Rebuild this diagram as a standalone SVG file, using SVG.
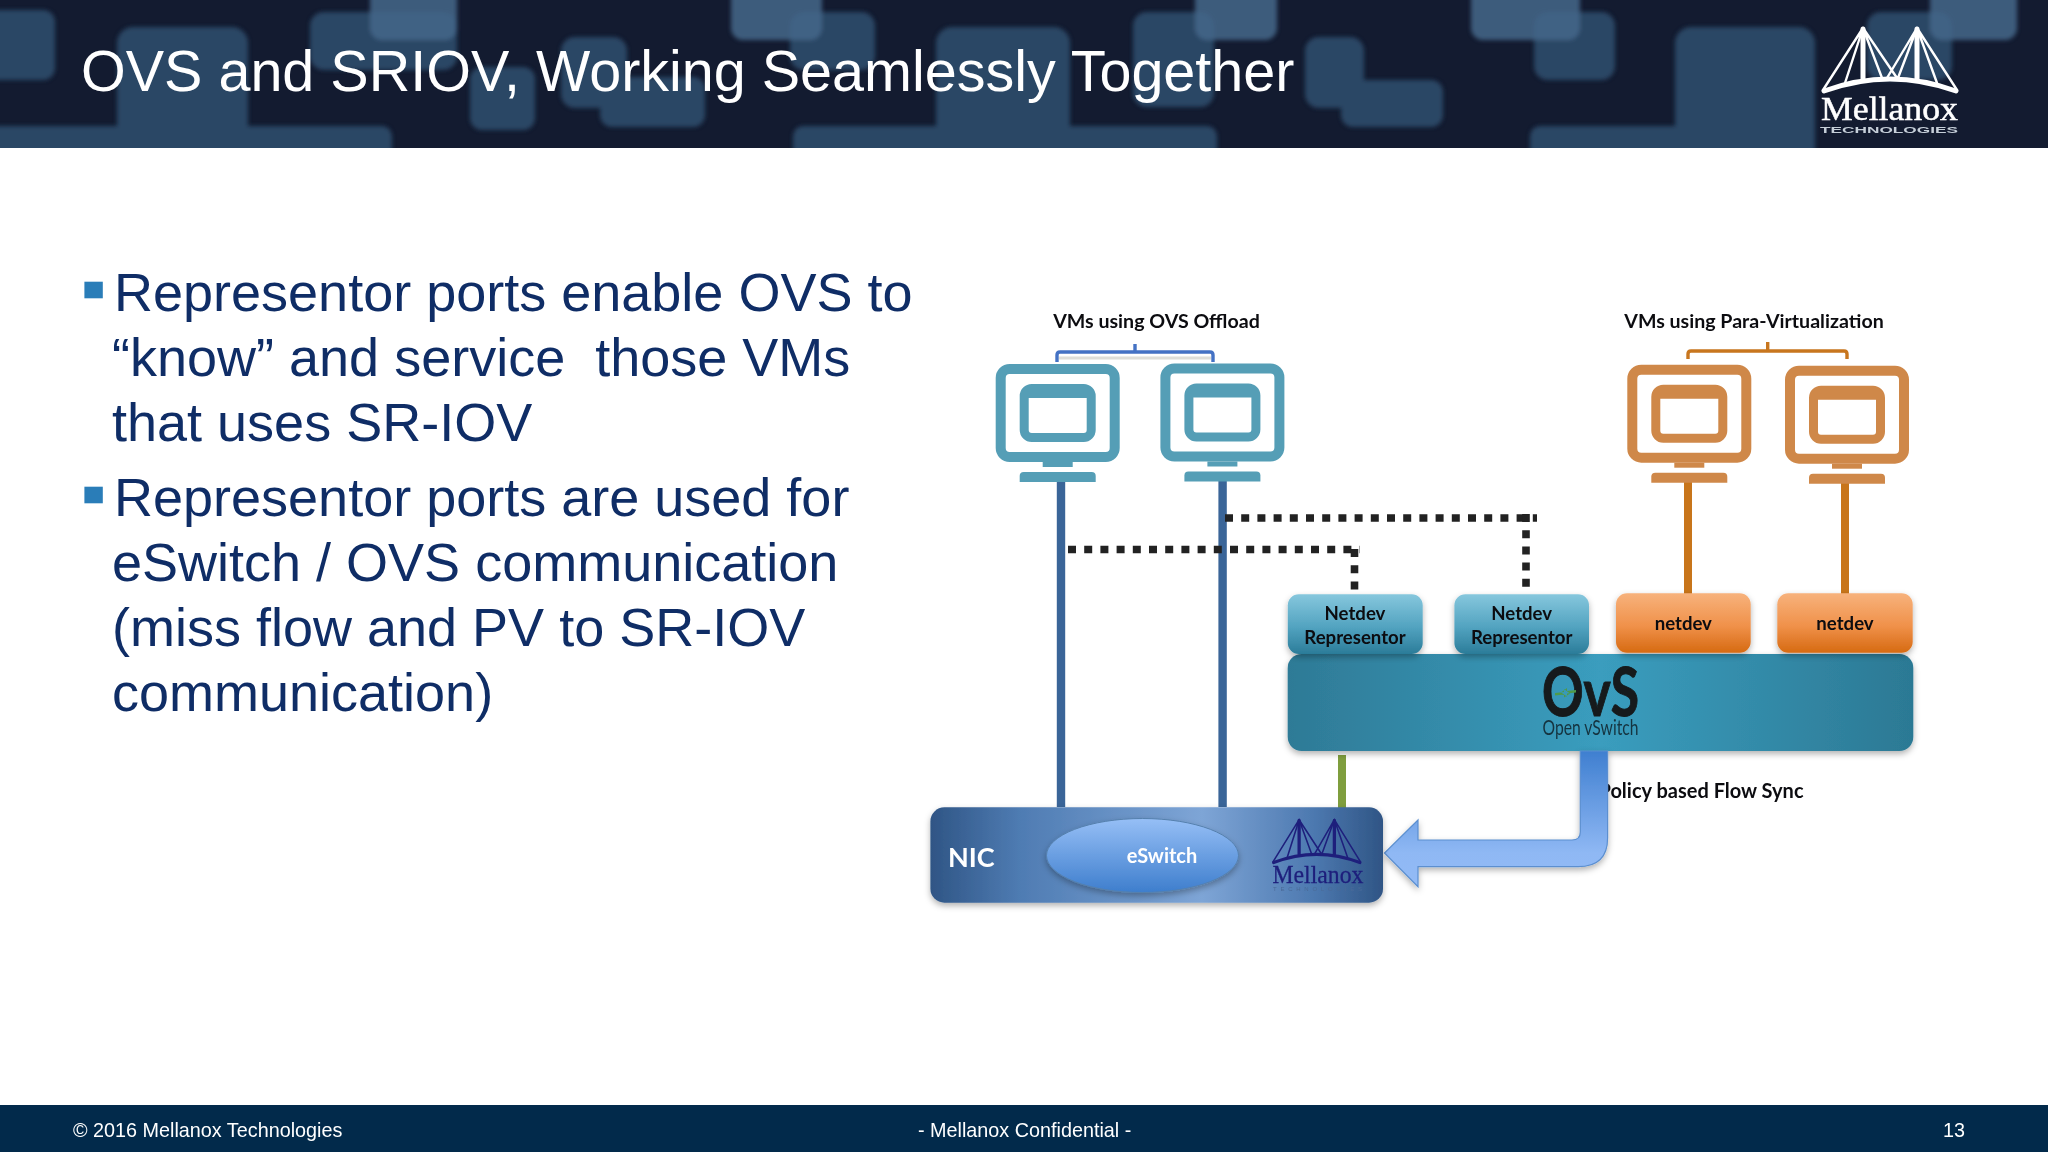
<svg xmlns="http://www.w3.org/2000/svg" width="2048" height="1152" viewBox="0 0 2048 1152">
<style>
text{font-family:"Liberation Sans",Arial,sans-serif}
.lb{font-family:Lato,"Noto Sans",sans-serif;font-weight:700;fill:#0c0c10}
.m{text-anchor:middle}
.body{font-size:54px;fill:#0f2d66;white-space:pre}
.foot{font-size:19.8px;fill:#fff}
.r1{fill:#2b4765}
.r2{fill:#45678a;opacity:.85}
.dash{fill:none;stroke:#222;stroke-width:7.6;stroke-dasharray:8 8.2}
.blue{fill:none;stroke:#3a6598;stroke-width:8.4}
.org{fill:none;stroke:#c8751a;stroke-width:8}
.nd{font-size:18.6px}
.vl{font-size:19.6px}
</style>
<defs>
<linearGradient id="gRep" x1="0" y1="0" x2="0" y2="1"><stop offset="0" stop-color="#86c7dd"/><stop offset=".55" stop-color="#52a3c0"/><stop offset="1" stop-color="#2b7c99"/></linearGradient>
<linearGradient id="gOrg" x1="0" y1="0" x2="0" y2="1"><stop offset="0" stop-color="#f7b27c"/><stop offset=".55" stop-color="#f0914a"/><stop offset="1" stop-color="#d66a12"/></linearGradient>
<linearGradient id="gOvs" x1="0" y1="0" x2="1" y2="0"><stop offset="0" stop-color="#2e7a96"/><stop offset=".5" stop-color="#3a9dbe"/><stop offset="1" stop-color="#2c7994"/></linearGradient>
<linearGradient id="gNic" x1="0" y1="0" x2="1" y2="0"><stop offset="0" stop-color="#2f5585"/><stop offset=".2" stop-color="#4f7cb3"/><stop offset=".6" stop-color="#7ea5d6"/><stop offset=".85" stop-color="#4c78af"/><stop offset="1" stop-color="#2f5585"/></linearGradient>
<linearGradient id="gEll" x1="0" y1="0" x2="0" y2="1"><stop offset="0" stop-color="#96bff6"/><stop offset="1" stop-color="#3e7ecd"/></linearGradient>
<linearGradient id="gArr" gradientUnits="userSpaceOnUse" x1="0" y1="751" x2="0" y2="887"><stop offset="0" stop-color="#3f7fd0"/><stop offset=".75" stop-color="#8fb8f4"/><stop offset="1" stop-color="#93bbf6"/></linearGradient>
<clipPath id="hdr"><rect width="2048" height="148"/></clipPath>
<filter id="sh" x="-5%" y="-10%" width="110%" height="125%"><feDropShadow dx="0" dy="3" stdDeviation="3" flood-color="#000" flood-opacity=".3"/></filter>
<filter id="soft" x="-2%" y="-5%" width="104%" height="110%"><feGaussianBlur stdDeviation="2"/></filter>
<g id="mon" fill="currentColor">
<path fill-rule="evenodd" d="M14 0H110A14 14 0 0 1 124 14V84A14 14 0 0 1 110 98H14A14 14 0 0 1 0 84V14A14 14 0 0 1 14 0ZM14 10A4 4 0 0 0 10 14V84A4 4 0 0 0 14 88H110A4 4 0 0 0 114 84V14A4 4 0 0 0 110 10Z"/>
<path fill-rule="evenodd" d="M36 20H88A12 12 0 0 1 100 32V66A12 12 0 0 1 88 78H36A12 12 0 0 1 24 66V32A12 12 0 0 1 36 20ZM33 34V66A3 3 0 0 0 36 69H88A3 3 0 0 0 91 66V34Z"/>
<rect x="47" y="98" width="30" height="5"/>
<path d="M28 108H96A4 4 0 0 1 100 112V118H24V112A4 4 0 0 1 28 108Z"/>
</g>
<g id="bridge" fill="none" stroke="currentColor" stroke-linecap="round">
<path stroke-width="5" d="M1 64Q67 40 133 64"/>
<path stroke-width="5" d="M40 2V52M94 2V52"/>
<path stroke-width="2.4" d="M40 1L0 63M40 1L22 56M40 1L59 51M40 1L74 51M94 1L134 63M94 1L114 56M94 1L75 51M94 1L64 51"/>
</g>
</defs>

<g id="header">
<rect width="2048" height="148" fill="#131b30"/>
<g clip-path="url(#hdr)"><g filter="url(#soft)">
<rect class="r1" x="-20" y="10" width="75" height="70" rx="12"/>
<rect class="r1" x="117" y="27" width="131" height="145" rx="16"/>
<rect class="r1" x="-20" y="126" width="157" height="50" rx="10"/>
<rect class="r1" x="235" y="126" width="157" height="50" rx="10"/>
<rect class="r1" x="310" y="12" width="147" height="58" rx="14"/>
<rect class="r1" x="561" y="37" width="66" height="71" rx="14"/>
<rect class="r1" x="600" y="77" width="105" height="50" rx="12"/>
<rect class="r1" x="470" y="67" width="65" height="63" rx="12"/>
<rect class="r1" x="790" y="12" width="85" height="58" rx="14"/>
<rect class="r1" x="793" y="126" width="167" height="50" rx="10"/>
<rect class="r1" x="936" y="27" width="134" height="145" rx="16"/>
<rect class="r1" x="1055" y="126" width="162" height="50" rx="10"/>
<rect class="r1" x="1133" y="12" width="81" height="95" rx="14"/>
<rect class="r1" x="1305" y="37" width="59" height="71" rx="14"/>
<rect class="r1" x="1341" y="80" width="102" height="47" rx="12"/>
<rect class="r1" x="1534" y="12" width="81" height="68" rx="14"/>
<rect class="r1" x="1675" y="27" width="140" height="145" rx="16"/>
<rect class="r1" x="1530" y="126" width="167" height="50" rx="10"/>
<rect class="r1" x="1867" y="12" width="85" height="68" rx="14"/>
<rect class="r2" x="370" y="-20" width="87" height="60" rx="12"/>
<rect class="r2" x="731" y="-20" width="91" height="60" rx="12"/>
<rect class="r2" x="1195" y="-20" width="82" height="60" rx="12"/>
<rect class="r2" x="1471" y="-20" width="109" height="60" rx="12"/>
<rect class="r2" x="1930" y="-20" width="87" height="60" rx="12"/>
</g></g>
<text x="81" y="91" font-size="57.5" fill="#fff">OVS and SRIOV, Working Seamlessly Together</text>
</g>

<g id="logo-top" color="#fff">
<use href="#bridge" transform="translate(1823 27)"/>
<text x="1821" y="120" font-size="33" fill="#fff" stroke="#fff" stroke-width=".5" textLength="137" lengthAdjust="spacingAndGlyphs" style="font-family:'Liberation Serif',serif">Mellanox</text>
<text x="1820" y="133" font-size="9.5" font-weight="700" fill="#c5ced8" textLength="138" lengthAdjust="spacingAndGlyphs">TECHNOLOGIES</text>
</g>

<g id="bullets">
<rect x="84.4" y="281.7" width="18.4" height="16.6" fill="#2a7db8"/>
<rect x="84.4" y="486.7" width="18.4" height="16.6" fill="#2a7db8"/>
<text class="body" x="114" y="310.7">Representor ports enable OVS to</text>
<text class="body" x="112" y="375.7">“know” and service  those VMs</text>
<text class="body" x="112" y="440.7">that uses SR-IOV</text>
<text class="body" x="114" y="515.7">Representor ports are used for</text>
<text class="body" x="112" y="580.7">eSwitch / OVS communication</text>
<text class="body" x="112" y="645.7">(miss flow and PV to SR-IOV</text>
<text class="body" x="112" y="710.7">communication)</text>
</g>

<g id="label-ovs-offload"><text class="lb vl" x="1156.5" y="327.7" text-anchor="middle">VMs using OVS Offload</text></g>
<g id="label-pv"><text class="lb vl" x="1754" y="327.7" text-anchor="middle">VMs using Para-Virtualization</text></g>
<g id="label-flow"><text class="lb" x="1701" y="798" font-size="20" text-anchor="middle">Policy based Flow Sync</text></g>

<g id="connectors">
<path d="M1059 358H1211" fill="none" stroke="#c8c8c0" stroke-width="3" opacity=".6"/>
<path d="M1057 362V355Q1057 352 1060 352H1210Q1213 352 1213 355V362M1135 344V352" fill="none" stroke="#4472c4" stroke-width="3.4"/>
<path d="M1688 359V354Q1688 351 1691 351H1844Q1847 351 1847 354V359M1767.7 342V351" fill="none" stroke="#c8761e" stroke-width="3.4"/>
<path class="blue" d="M1061 480V807"/>
<path class="blue" d="M1222.6 480V807"/>
<path class="org" d="M1688 480V594"/>
<path class="org" d="M1845 480V594"/>
<path d="M1342 755V808" fill="none" stroke="#7f9e3e" stroke-width="8"/>
<path class="dash" d="M1225 518H1537"/>
<path class="dash" d="M1526 514V592"/>
<path class="dash" d="M1068 549.5H1360"/>
<path class="dash" d="M1354.5 549V592"/>
</g>

<g id="vm1" color="#559eb6"><use href="#mon" transform="translate(995.7 364)"/></g>
<g id="vm2" color="#559eb6"><use href="#mon" transform="translate(1160.4 363.5)"/></g>
<g id="vm3" color="#cf8849"><use href="#mon" transform="translate(1627.3 364.7)"/></g>
<g id="vm4" color="#cf8849"><use href="#mon" transform="translate(1785 365.7)"/></g>

<g id="ovs">
<rect x="1287.7" y="654" width="625.6" height="97" rx="14" fill="url(#gOvs)" filter="url(#sh)"/>
<text x="1542" y="715.5" font-size="66" fill="#161a1c" stroke="#161a1c" stroke-width="1" textLength="97" lengthAdjust="spacingAndGlyphs" style="font-family:Lato,'Noto Sans',sans-serif;font-weight:700">OvS</text>
<path d="M1556 693l9-1v-3l6 4.500-6 4v-3l-9 1zM1577 690l-9 1v-3l-6 4.500 6 4v-3l9-1z" fill="#4f9a4a" transform="translate(-1 0)"/>
<text x="1542.5" y="734.500" font-size="22" fill="#15333f" textLength="96" lengthAdjust="spacingAndGlyphs" style="font-family:Lato,'Noto Sans',sans-serif">Open vSwitch</text>
</g>

<g id="rep1">
<rect x="1287.8" y="594.3" width="134.9" height="59.7" rx="11" fill="url(#gRep)" filter="url(#sh)"/>
<text class="lb nd m" x="1355" y="620">Netdev</text><text class="lb nd m" x="1355" y="643.5">Representor</text>
</g>
<g id="rep2">
<rect x="1454.4" y="594.3" width="134.6" height="59.7" rx="11" fill="url(#gRep)" filter="url(#sh)"/>
<text class="lb nd m" x="1521.7" y="620">Netdev</text><text class="lb nd m" x="1521.7" y="643.5">Representor</text>
</g>
<g id="netdev1">
<rect x="1616" y="593.3" width="134.7" height="59.4" rx="11" fill="url(#gOrg)" filter="url(#sh)"/>
<text class="lb nd m" x="1683.3" y="630.3">netdev</text>
</g>
<g id="netdev2">
<rect x="1777.3" y="593.3" width="135.4" height="59.4" rx="11" fill="url(#gOrg)" filter="url(#sh)"/>
<text class="lb nd m" x="1845" y="630.3">netdev</text>
</g>

<g id="flow-arrow">
<path d="M1580.3 751V832Q1580.3 840 1572 840H1418V820L1384.5 853L1418 886.7V866.7H1578Q1607.6 866.7 1607.6 838V751Z" fill="url(#gArr)" stroke="#5b8fd0" stroke-width="1.2" filter="url(#sh)"/>
</g>

<g id="nic">
<rect x="930.4" y="807.3" width="452.6" height="95.4" rx="14" fill="url(#gNic)" filter="url(#sh)"/>
<text x="948" y="866.500" font-size="27" fill="#fff" style="font-family:Lato,'Noto Sans',sans-serif;font-weight:700">NIC</text>
<ellipse cx="1142.5" cy="855.5" rx="96" ry="37" fill="url(#gEll)" stroke="#5580ad" stroke-width="1" filter="url(#sh)"/>
<text x="1162" y="863" font-size="20" fill="#fff" text-anchor="middle" style="font-family:Lato,'Noto Sans',sans-serif;font-weight:700">eSwitch</text>
<use href="#bridge" color="#1e1f7c" transform="translate(1273 819) scale(.653 .68)"/>
<text x="1272.4" y="883" font-size="26" fill="#1e1f7c" stroke="#1e1f7c" stroke-width=".3" textLength="91" lengthAdjust="spacingAndGlyphs" style="font-family:'Liberation Serif',serif">Mellanox</text>
<text x="1273" y="891" font-size="6" fill="#4a6a98" textLength="89">TECHNOLOGIES</text>
</g>

<g id="footer">
<rect y="1105" width="2048" height="47" fill="#022a4b"/>
<text class="foot" x="73" y="1137">© 2016 Mellanox Technologies</text>
<text class="foot" x="918" y="1137">- Mellanox Confidential -</text>
<text class="foot" x="1943" y="1137">13</text>
</g>
</svg>
